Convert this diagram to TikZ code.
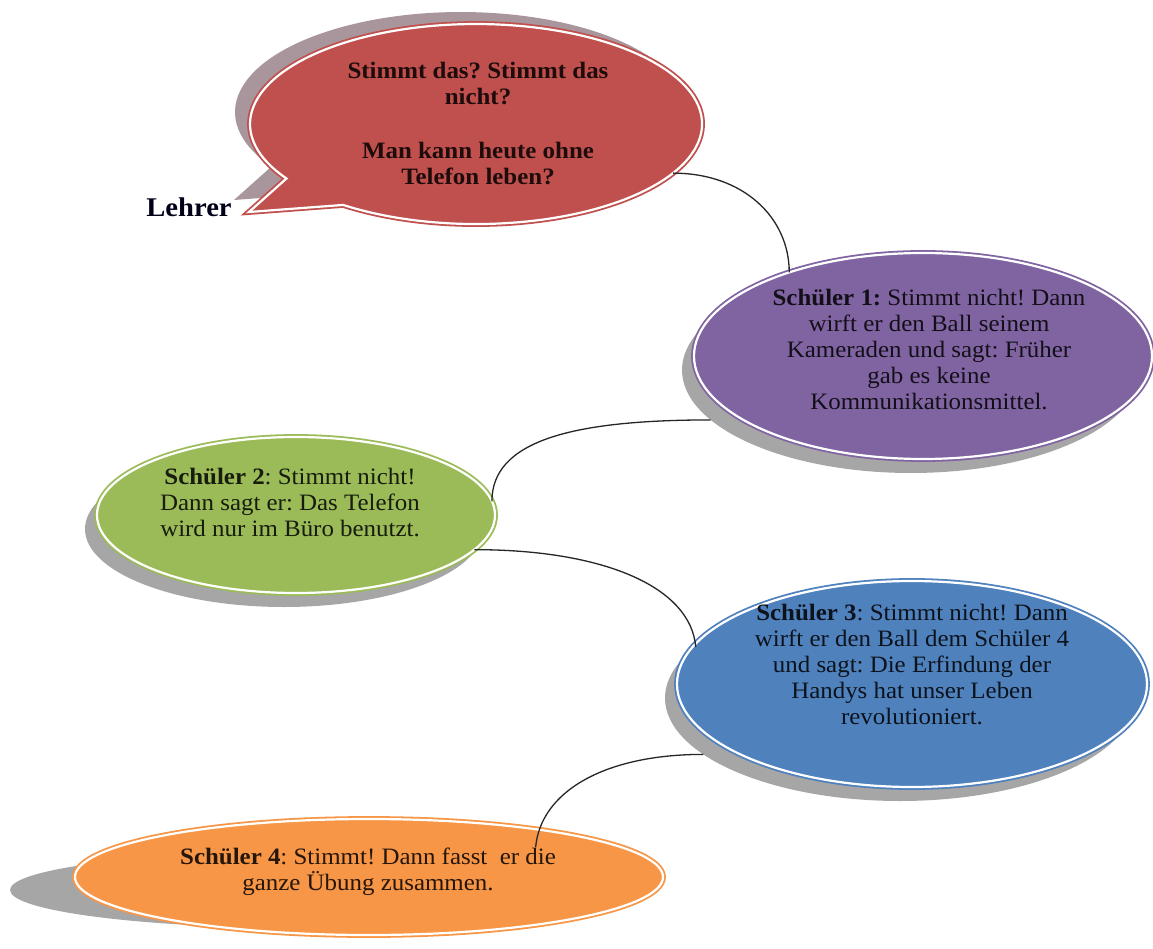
\documentclass[tikz,border=0pt]{standalone}
\usepackage{fontspec}
\setmainfont{Liberation Serif}[FakeStretch=1.06]
\usetikzlibrary{shapes.geometric,shadows}
\definecolor{cred}{HTML}{C0504D}
\definecolor{cpurple}{HTML}{8064A2}
\definecolor{cgreen}{HTML}{9BBB59}
\definecolor{cblue}{HTML}{4F81BD}
\definecolor{corange}{HTML}{F79646}
\definecolor{shadowgray}{HTML}{A6A6A6}
\definecolor{shadowred}{HTML}{A9969C}
\definecolor{linkcol}{HTML}{262626}
\begin{document}
\frenchspacing
\begin{tikzpicture}[x=1pt,y=-1pt,
  txt/.style={align=center, font=\fontsize{23.5}{26}\selectfont},
  oval/.style={ellipse, inner sep=0pt, outer sep=0pt, line width=1.8pt, double=white, double distance=2.2pt},
  shade/.style={drop shadow={shadow xshift=-12pt, shadow yshift=-14pt, fill=shadowgray, opacity=1}},
  link/.style={draw=linkcol, line width=1.3pt}
]
\useasboundingbox[fill=white] (0,0) rectangle (1153,949);

% ---- Lehrer speech bubble ----
\path[fill=cred, draw=cred, line width=1.8pt, double=white, double distance=2.2pt,
      drop shadow={shadow xshift=-15pt, shadow yshift=12pt, fill=shadowred, opacity=1}]
  (249,212) -- (286.5,178.5) arc[start angle=147, end angle=486, x radius=226, y radius=100] -- cycle;
\node[ellipse, inner sep=0pt, minimum width=452pt, minimum height=200pt] (lehrer) at (476,124) {};
\node[txt, font=\bfseries\fontsize{23.5}{26}\selectfont, text=black!85!cred] (q) at (478,124)
  {Stimmt das? Stimmt das\\nicht?\\[28pt]Man kann heute ohne\\Telefon leben?};
\node[font=\bfseries\fontsize{27}{30}\selectfont, text=black!90!blue] (lehrerlabel) at (189,207) {Lehrer};

% ---- Schueler 1 ----
\node[oval, shade, fill=cpurple, draw=cpurple, minimum width=458pt, minimum height=206pt] (s1) at (923,356) {};
\node[txt, text=black!85!cpurple] (t1) at (929,350)
  {\textbf{Schüler 1:} Stimmt nicht! Dann\\wirft er den Ball seinem\\Kameraden und sagt: Früher\\gab es keine\\Kommunikationsmittel.};

% ---- Schueler 2 ----
\node[oval, shade, fill=cgreen, draw=cgreen, minimum width=398pt, minimum height=156pt] (s2) at (296,515) {};
\node[txt, text=black!85!cgreen] (t2) at (290,503)
  {\textbf{Schüler 2}: Stimmt nicht!\\Dann sagt er: Das Telefon\\wird nur im Büro benutzt.};

% ---- Schueler 3 ----
\node[oval, shade, fill=cblue, draw=cblue, minimum width=470pt, minimum height=206pt] (s3) at (912,684) {};
\node[txt, text=black!85!cblue] (t3) at (912,665)
  {\textbf{Schüler 3}: Stimmt nicht! Dann\\wirft er den Ball dem Schüler 4\\und sagt: Die Erfindung der\\Handys hat unser Leben\\revolutioniert.};

% ---- Schueler 4 ----
\fill[shadowgray] (305,890) ellipse[x radius=295, y radius=38];
\node[oval, fill=corange, draw=corange, minimum width=588pt, minimum height=116pt] (s4) at (369,877) {};
\node[txt, text=black!85!corange] (t4) at (368,872)
  {\textbf{Schüler 4}: Stimmt! Dann fasst~ er die\\ganze Übung zusammen.};

% ---- connectors ----
\draw[link] (lehrer.-14) .. controls +(70,0) and +(0,-55) .. (s1.148);
\draw[link] ([shift={(-12,14)}]s1.194) .. controls +(-140,0) and +(0,-60) .. (s2.4);
\draw[link] (s2.-11) .. controls +(130,0) and +(-5,-60) .. ([shift={(-12,14)}]s3.166);
\draw[link] ([shift={(-12,14)}]s3.196) .. controls +(-100,0) and +(5,-55) .. ([shift={(0,18)}]s4.16);
\end{tikzpicture}
\end{document}
